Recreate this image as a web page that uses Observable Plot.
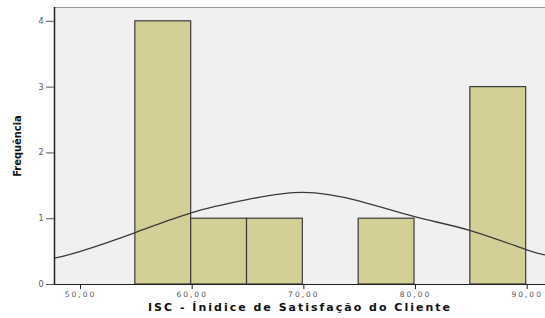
<!DOCTYPE html>
<html>
<head>
<meta charset="utf-8">
<script src="https://cdn.jsdelivr.net/npm/d3@7"></script>
<script src="https://cdn.jsdelivr.net/npm/@observablehq/plot@0.6"></script>
<style>
  html, body { margin: 0; padding: 0; background: #fff; }
  #chart svg { display: block; }
  .xt text { letter-spacing: 2px; }
</style>
</head>
<body>
<div id="chart"></div>
<script>
// Histogram bins (ISC values) and frequencies
const binStart = [55, 60, 65, 75, 85];
const binEnd   = [60, 65, 70, 80, 90];
const counts   = [4, 1, 1, 1, 3];

// Normal curve
const curveX = [47.76, 50, 55, 60, 65, 70, 75, 80, 85, 90, 91.73];
const curveY = [0.40, 0.50, 0.79, 1.09, 1.29, 1.40, 1.27, 1.03, 0.82, 0.53, 0.45];

// Axis ticks
const xTicks = [50, 60, 70, 80, 90];
const yTicks = [0, 1, 2, 3, 4];

const xLabel = "ISC - Ínidice de Satisfação do Cliente";
const yLabel = "Frequência";

const xDomain = [47.76, 91.73];
const yDomain = [0, 4.21];

const bars = binStart.map((s, i) => ({x1: s, x2: binEnd[i], y: counts[i]}));
const curve = curveX.map((x, i) => ({x, y: curveY[i]}));

const chart = Plot.plot({
  width: 545,
  height: 318,
  marginTop: 7,
  marginBottom: 34,
  marginLeft: 54,
  marginRight: 0,
  style: {fontFamily: "DejaVu Sans", background: "#fff"},
  x: {domain: xDomain},
  y: {domain: yDomain},
  marks: [
    Plot.frame({fill: "#f0f0f0", stroke: null}),
    Plot.ruleY([yDomain[1]], {stroke: "#9a9a9a", strokeWidth: 1.2}),
    Plot.rectY(bars, {x1: "x1", x2: "x2", y: "y", fill: "#d3cf97", stroke: "#3a3a3a", strokeWidth: 1.2}),
    Plot.line(curve, {x: "x", y: "y", curve: "natural", stroke: "#3a3a3a", strokeWidth: 1.3}),
    Plot.ruleY([0], {stroke: "#222", strokeWidth: 1.2}),
    Plot.ruleX([xDomain[0]], {stroke: "#222", strokeWidth: 1.5}),
    Plot.axisX({ticks: xTicks, tickSize: 5, tickPadding: 2, tickFormat: d => d.toFixed(2).replace(".", ","),
      fontSize: 7.5, color: "#555", label: null, stroke: "#222", className: "xt", dx: 1}),
    Plot.axisY({ticks: yTicks, tickSize: 8, tickPadding: 3, tickFormat: d3.format("d"),
      fontSize: 8, color: "#555", label: null, stroke: "#555"}),
    Plot.text([xLabel], {frameAnchor: "bottom", dy: 26, text: d => d, fontSize: 11, fontWeight: "bold",
      fill: "#111", fontFamily: "DejaVu Sans"}),
    Plot.text([yLabel], {frameAnchor: "left", dx: -37, rotate: -90, textAnchor: "middle", text: d => d,
      fontSize: 11, fontWeight: "bold", fill: "#111", fontFamily: "DejaVu Sans Condensed, DejaVu Sans"})
  ]
});
// letter-spacing for x label
chart.querySelectorAll("text").forEach(t => {
  if (t.textContent === xLabel) t.setAttribute("letter-spacing", "2");
});
document.getElementById("chart").appendChild(chart);
</script>
</body>
</html>
